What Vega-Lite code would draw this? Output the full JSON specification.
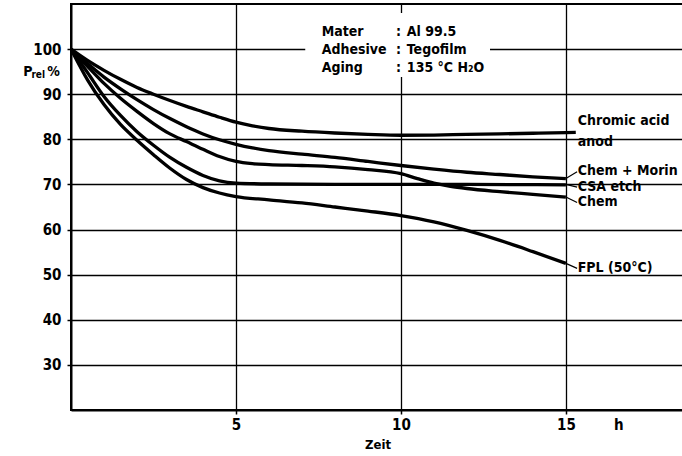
{
  "$schema": "https://vega.github.io/schema/vega-lite/v6.json",
  "autosize": "none",
  "width": 613,
  "height": 406,
  "padding": {"left": 71, "top": 4, "right": 0, "bottom": 46},
  "background": "white",
  "config": {
    "view": {"stroke": "black", "strokeWidth": 2},
    "font": "DejaVu Sans Condensed",
    "text": {"font": "DejaVu Sans Condensed", "fontWeight": "bold", "fontSize": 14, "color": "black"}
  },
  "datasets": {
    "curves": [
      {"s":"Chromic","t":0,"v":100},{"s":"Chromic","t":0.5,"v":97.5},{"s":"Chromic","t":1,"v":95.3},{"s":"Chromic","t":1.5,"v":93.3},{"s":"Chromic","t":2,"v":91.5},{"s":"Chromic","t":2.5,"v":90},{"s":"Chromic","t":3,"v":88.6},{"s":"Chromic","t":3.5,"v":87.3},{"s":"Chromic","t":4,"v":86.1},{"s":"Chromic","t":4.5,"v":84.9},{"s":"Chromic","t":5,"v":83.8},{"s":"Chromic","t":5.5,"v":83.0},{"s":"Chromic","t":6,"v":82.4},{"s":"Chromic","t":7,"v":81.8},{"s":"Chromic","t":8,"v":81.4},{"s":"Chromic","t":9,"v":81.1},{"s":"Chromic","t":10,"v":80.9},{"s":"Chromic","t":11,"v":80.95},{"s":"Chromic","t":12,"v":81.1},{"s":"Chromic","t":13,"v":81.2},{"s":"Chromic","t":14,"v":81.35},{"s":"Chromic","t":15,"v":81.5},{"s":"Chromic","t":15.3,"v":81.55},
      {"s":"ChemMorin","t":0,"v":100},{"s":"ChemMorin","t":0.5,"v":96.8},{"s":"ChemMorin","t":1,"v":93.8},{"s":"ChemMorin","t":1.5,"v":91.2},{"s":"ChemMorin","t":2,"v":88.8},{"s":"ChemMorin","t":2.5,"v":86.6},{"s":"ChemMorin","t":3,"v":84.6},{"s":"ChemMorin","t":3.5,"v":82.8},{"s":"ChemMorin","t":4,"v":81.2},{"s":"ChemMorin","t":4.5,"v":79.9},{"s":"ChemMorin","t":5,"v":78.9},{"s":"ChemMorin","t":5.5,"v":78.1},{"s":"ChemMorin","t":6,"v":77.5},{"s":"ChemMorin","t":7,"v":76.7},{"s":"ChemMorin","t":8,"v":76.0},{"s":"ChemMorin","t":9,"v":75.1},{"s":"ChemMorin","t":10,"v":74.2},{"s":"ChemMorin","t":11,"v":73.4},{"s":"ChemMorin","t":12,"v":72.7},{"s":"ChemMorin","t":13,"v":72.2},{"s":"ChemMorin","t":14,"v":71.7},{"s":"ChemMorin","t":15,"v":71.3},
      {"s":"Chem","t":0,"v":100},{"s":"Chem","t":0.5,"v":96.2},{"s":"Chem","t":1,"v":92.4},{"s":"Chem","t":1.5,"v":89.1},{"s":"Chem","t":2,"v":86.2},{"s":"Chem","t":2.5,"v":83.5},{"s":"Chem","t":3,"v":81.2},{"s":"Chem","t":3.5,"v":79.5},{"s":"Chem","t":4,"v":77.8},{"s":"Chem","t":4.5,"v":76.2},{"s":"Chem","t":5,"v":75.1},{"s":"Chem","t":5.5,"v":74.6},{"s":"Chem","t":6,"v":74.4},{"s":"Chem","t":7,"v":74.2},{"s":"Chem","t":8,"v":73.9},{"s":"Chem","t":9,"v":73.3},{"s":"Chem","t":10,"v":72.4},{"s":"Chem","t":10.5,"v":71.3},{"s":"Chem","t":11,"v":70.3},{"s":"Chem","t":11.5,"v":69.6},{"s":"Chem","t":12,"v":69.1},{"s":"Chem","t":13,"v":68.4},{"s":"Chem","t":14,"v":67.8},{"s":"Chem","t":15,"v":67.2},
      {"s":"CSA","t":0,"v":100},{"s":"CSA","t":0.5,"v":94.8},{"s":"CSA","t":1,"v":89.5},{"s":"CSA","t":1.5,"v":85.3},{"s":"CSA","t":2,"v":81.7},{"s":"CSA","t":2.5,"v":78.7},{"s":"CSA","t":3,"v":76.0},{"s":"CSA","t":3.5,"v":73.8},{"s":"CSA","t":4,"v":72.0},{"s":"CSA","t":4.5,"v":70.8},{"s":"CSA","t":5,"v":70.3},{"s":"CSA","t":6,"v":70.1},{"s":"CSA","t":8,"v":70.0},{"s":"CSA","t":10,"v":70.0},{"s":"CSA","t":12,"v":70.0},{"s":"CSA","t":15,"v":69.9},
      {"s":"FPL","t":0,"v":100},{"s":"FPL","t":0.5,"v":93.2},{"s":"FPL","t":1,"v":87.7},{"s":"FPL","t":1.5,"v":83.3},{"s":"FPL","t":2,"v":79.8},{"s":"FPL","t":2.5,"v":76.6},{"s":"FPL","t":3,"v":73.6},{"s":"FPL","t":3.5,"v":71.1},{"s":"FPL","t":4,"v":69.3},{"s":"FPL","t":4.5,"v":68.1},{"s":"FPL","t":5,"v":67.3},{"s":"FPL","t":6,"v":66.6},{"s":"FPL","t":7,"v":65.9},{"s":"FPL","t":8,"v":65.0},{"s":"FPL","t":9,"v":64.1},{"s":"FPL","t":10,"v":63.1},{"s":"FPL","t":11,"v":61.7},{"s":"FPL","t":12,"v":59.8},{"s":"FPL","t":13,"v":57.6},{"s":"FPL","t":14,"v":55.1},{"s":"FPL","t":15,"v":52.5}
    ],
    "labels": [
      {"label":"Chromic acid","x":15.36,"y":84.0},
      {"label":"anod","x":15.36,"y":79.5},
      {"label":"Chem + Morin","x":15.36,"y":72.9},
      {"label":"CSA etch","x":15.36,"y":69.4},
      {"label":"Chem","x":15.36,"y":66.0},
      {"label":"FPL (50°C)","x":15.36,"y":51.4}
    ],
    "leaders": [
      {"x":15,"y":71.3,"x2":15.34,"y2":72.8},
      {"x":15,"y":70.0,"x2":15.34,"y2":69.4},
      {"x":15,"y":67.2,"x2":15.34,"y2":66.0},
      {"x":15,"y":52.5,"x2":15.34,"y2":51.4}
    ],
    "box": [{"x":7.1,"x2":12.7,"y":93.8,"y2":108.0}],
    "boxtext": [
      {"k":"Mater","c":":","val":"Al 99.5","y":103.8},
      {"k":"Adhesive","c":":","val":"Tegofilm","y":99.8},
      {"k":"Aging","c":":","val":"135 °C H₂O","y":95.8}
    ],
    "unit": [{"x":16.6,"y":20,"t":"h"}],
    "ylab": [{"x":-1.45,"y":94.9,"t":"P"},{"x":-0.72,"y":94.9,"t":"%"}],
    "ysub": [{"x":-1.2,"y":94.2,"t":"rel"}]
  },
  "layer": [
    {
      "data": {"name": "curves"},
      "mark": {"type": "line", "color": "black", "strokeWidth": 3.3, "interpolate": "monotone", "clip": true},
      "encoding": {
        "x": {"field": "t", "type": "quantitative",
          "scale": {"domain": [0, 18.58], "nice": false, "zero": false},
          "axis": {"values": [5, 10, 15], "title": "Zeit", "titleFont": "DejaVu Sans Condensed", "titleFontWeight": "bold", "titleFontSize": 13, "titlePadding": 6,
            "labelFont": "DejaVu Sans Condensed", "labelFontWeight": "bold", "labelFontSize": 15, "labelPadding": 3, "labelColor": "black",
            "domainColor": "black", "domainWidth": 2, "tickColor": "black", "tickSize": 4, "tickWidth": 1.5,
            "grid": true, "gridColor": "black", "gridWidth": 1.3, "gridOpacity": 1}},
        "y": {"field": "v", "type": "quantitative",
          "scale": {"domain": [20, 110], "nice": false, "zero": false},
          "axis": {"values": [30, 40, 50, 60, 70, 80, 90, 100], "title": null,
            "labelFont": "DejaVu Sans Condensed", "labelFontWeight": "bold", "labelFontSize": 15, "labelPadding": 6, "labelColor": "black",
            "domainColor": "black", "domainWidth": 2, "tickColor": "black", "tickSize": 4, "tickWidth": 1.5,
            "grid": true, "gridColor": "black", "gridWidth": 1.3, "gridOpacity": 1}},
        "detail": {"field": "s", "type": "nominal"}
      }
    },
    {
      "data": {"name": "box"},
      "mark": {"type": "rect", "color": "white", "opacity": 1},
      "encoding": {
        "x": {"field": "x", "type": "quantitative"},
        "x2": {"field": "x2"},
        "y": {"field": "y", "type": "quantitative"},
        "y2": {"field": "y2"}
      }
    },
    {
      "data": {"name": "boxtext"},
      "mark": {"type": "text", "align": "left", "baseline": "middle", "fontSize": 14},
      "encoding": {
        "x": {"datum": 7.6, "type": "quantitative"},
        "y": {"field": "y", "type": "quantitative"},
        "text": {"field": "k"}
      }
    },
    {
      "data": {"name": "boxtext"},
      "mark": {"type": "text", "align": "left", "baseline": "middle", "fontSize": 14},
      "encoding": {
        "x": {"datum": 9.85, "type": "quantitative"},
        "y": {"field": "y", "type": "quantitative"},
        "text": {"field": "c"}
      }
    },
    {
      "data": {"name": "boxtext"},
      "mark": {"type": "text", "align": "left", "baseline": "middle", "fontSize": 14},
      "encoding": {
        "x": {"datum": 10.18, "type": "quantitative"},
        "y": {"field": "y", "type": "quantitative"},
        "text": {"field": "val"}
      }
    },
    {
      "data": {"name": "leaders"},
      "mark": {"type": "rule", "color": "black", "strokeWidth": 1.2},
      "encoding": {
        "x": {"field": "x", "type": "quantitative"},
        "x2": {"field": "x2"},
        "y": {"field": "y", "type": "quantitative"},
        "y2": {"field": "y2"}
      }
    },
    {
      "data": {"name": "labels"},
      "mark": {"type": "text", "align": "left", "baseline": "middle", "fontSize": 14},
      "encoding": {
        "x": {"field": "x", "type": "quantitative"},
        "y": {"field": "y", "type": "quantitative"},
        "text": {"field": "label"}
      }
    },
    {
      "data": {"name": "unit"},
      "mark": {"type": "text", "align": "center", "baseline": "top", "fontSize": 15, "dy": 8},
      "encoding": {
        "x": {"field": "x", "type": "quantitative"},
        "y": {"field": "y", "type": "quantitative"},
        "text": {"field": "t"}
      }
    },
    {
      "data": {"name": "ylab"},
      "mark": {"type": "text", "align": "left", "baseline": "middle", "fontSize": 14},
      "encoding": {
        "x": {"field": "x", "type": "quantitative"},
        "y": {"field": "y", "type": "quantitative"},
        "text": {"field": "t"}
      }
    },
    {
      "data": {"name": "ysub"},
      "mark": {"type": "text", "align": "left", "baseline": "middle", "fontSize": 10},
      "encoding": {
        "x": {"field": "x", "type": "quantitative"},
        "y": {"field": "y", "type": "quantitative"},
        "text": {"field": "t"}
      }
    }
  ]
}
